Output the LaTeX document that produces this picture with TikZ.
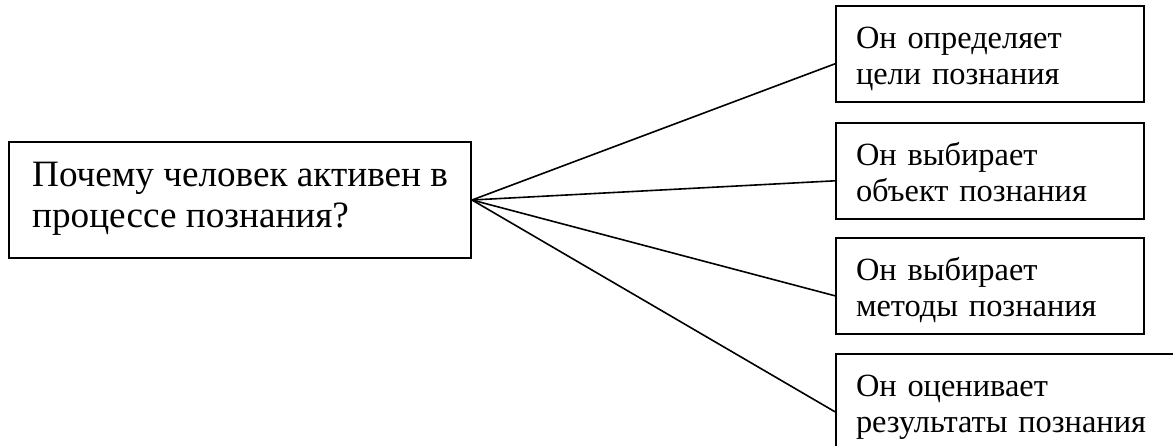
\documentclass[tikz,border=0pt]{standalone}
\usepackage{fontspec}
\setmainfont{Liberation Serif}
\usetikzlibrary{calc}

\begin{document}
\begin{tikzpicture}[x=0.5pt,y=-0.5pt,
  bigbox/.style={draw,line width=1pt,anchor=north west,align=left,
    minimum width=231pt,minimum height=58pt,font=\fontsize{18.6}{20.5}\selectfont,
    execute at begin node={\rule{0pt}{13.5pt}},execute at end node={\rule[-5pt]{0pt}{0pt}}},
  smallbox/.style={draw,line width=1pt,anchor=north west,align=left,inner xsep=10pt,
    text width=134pt,minimum height=48pt,font=\fontsize{16.2}{18}\selectfont,
    execute at begin node={\rule{0pt}{17pt}},execute at end node={\rule[-5pt]{0pt}{0pt}}}]
\useasboundingbox (0,0) rectangle (1173,445);
\clip (0,0) rectangle (1173,445);
\node[bigbox] (question) at (8,141) {Почему человек активен в\\процессе познания?};
\node[smallbox] (goal) at (835,5) {Он определяет\\цели познания};
\node[smallbox] (object) at (835,122) {Он выбирает\\объект познания};
\node[smallbox] (method) at (835,237) {Он выбирает\\методы познания};
\node[smallbox,text width=150pt] (result) at (835,353) {Он оценивает\\результаты познания};
\foreach \n in {goal,object,method,result}
  \draw[line width=0.8pt] (question.east) -- ($(\n.north west)!0.6!(\n.south west)$);
\end{tikzpicture}
\end{document}
